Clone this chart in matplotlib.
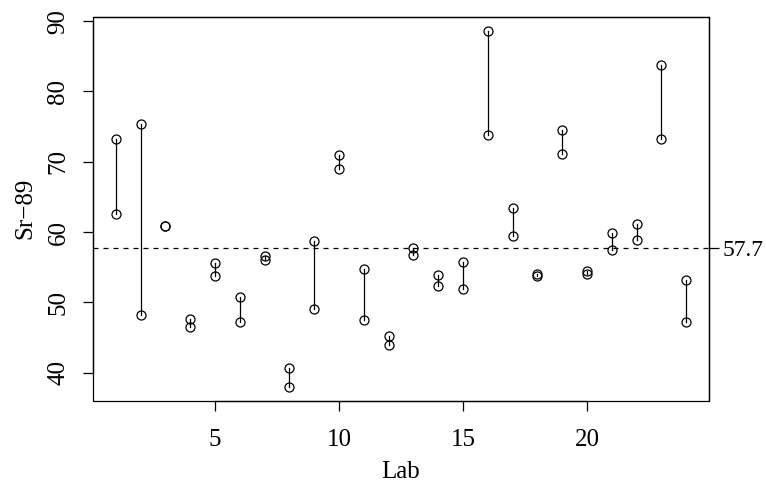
import matplotlib
matplotlib.use("Agg")
import matplotlib.pyplot as plt
from matplotlib.patches import Rectangle

labs = list(range(1, 25))
result_a = [73.2, 75.3, 60.9, 47.7, 55.6, 50.8, 56.6, 40.6, 58.7, 70.9, 54.8, 45.2,
            57.7, 53.9, 55.7, 88.6, 63.4, 54.0, 74.5, 54.4, 59.8, 61.2, 83.8, 53.2]
result_b = [62.5, 48.2, 60.8, 46.5, 53.7, 47.2, 56.0, 38.0, 49.1, 68.9, 47.5, 43.9,
            56.7, 52.3, 51.9, 73.8, 59.4, 53.7, 71.1, 54.1, 57.5, 58.9, 73.3, 47.2]
ref_value = 57.7
x_ticks = [5, 10, 15, 20]
y_ticks = [40, 50, 60, 70, 80, 90]

plt.rcParams['font.family'] = ['Liberation Serif', 'DejaVu Serif']
FS = 18

fig = plt.figure(figsize=(7.66, 4.83), dpi=100)
ax = fig.add_axes([93/766, 1 - 401/483, (709-93)/766, (401-16.7)/483])

for x, a, b in zip(labs, result_a, result_b):
    ax.plot([x, x], [a, b], color='black', lw=0.9)
ax.plot(labs, result_a, 'o', mfc='none', mec='black', ms=6.5, mew=0.9)
ax.plot(labs, result_b, 'o', mfc='none', mec='black', ms=6.5, mew=0.9)
ax.axhline(ref_value, color='black', lw=0.9, ls=(0, (4, 4)))

allv = result_a + result_b
lo, hi = min(allv), max(allv)
pad = 0.04 * (hi - lo)
ax.set_ylim(lo - pad, hi + pad)
xpad = 0.04 * (max(labs) - min(labs))
ax.set_xlim(min(labs) - xpad, max(labs) + xpad)

ax.set_xticks(x_ticks)
ax.set_yticks(y_ticks)
ax.set_yticklabels([str(v) for v in y_ticks], rotation=90, va='center')
ax.tick_params(axis='x', direction='out', length=7, width=0.9, pad=13.5, labelsize=FS)
ax.tick_params(axis='y', direction='out', length=7, width=0.9, pad=10, labelsize=FS)

for s in ax.spines.values():
    s.set_linewidth(0.9)
ax.spines['left'].set_bounds(40, 90)
ax.spines['bottom'].set_bounds(5, 20)
ax.add_patch(Rectangle((0, 0), 1, 1, transform=ax.transAxes, fill=False,
                       lw=0.9, color='black', clip_on=False))

ax2 = ax.twinx()
ax2.set_ylim(ax.get_ylim())
ax2.set_yticks([ref_value])
ax2.set_yticklabels([f"{ref_value}"])
ax2.tick_params(direction='out', length=7, width=0.9, pad=2.5, labelsize=17)
for s in ax2.spines.values():
    s.set_visible(False)

ax.set_xlabel('Lab', fontsize=FS)
ax.xaxis.label.set_va('center')
ax.xaxis.set_label_coords(0.5, (401 - 472) / (401 - 16.7))
ax.set_ylabel('Sr\u221289', fontsize=FS)
ax.yaxis.label.set_va('center')
ax.yaxis.set_label_coords((25 - 93) / (709 - 93), 0.5)

fig.savefig('out.png', dpi=100)
